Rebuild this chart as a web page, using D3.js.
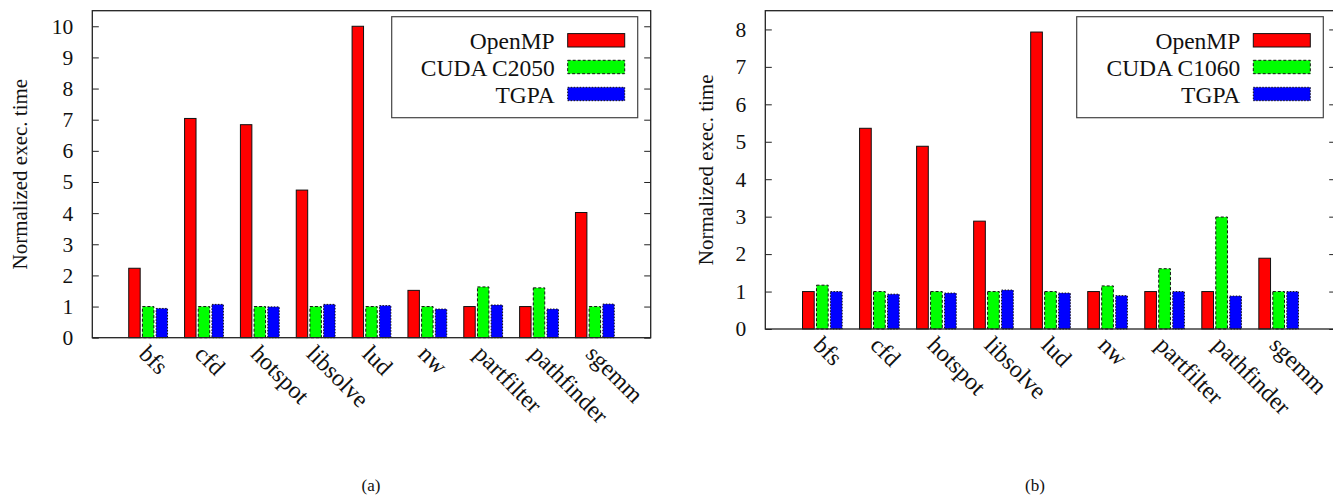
<!DOCTYPE html>
<html>
<head>
<meta charset="utf-8">
<script src="https://cdn.jsdelivr.net/npm/d3@7"></script>
<style>
  html, body { margin: 0; padding: 0; background: #fff; }
  svg { display: block; font-family: "Liberation Serif", "DejaVu Serif", serif; }
</style>
</head>
<body>
<svg id="chart" width="1333" height="495"></svg>
<script>
const categories = ['bfs', 'cfd', 'hotspot', 'libsolve', 'lud', 'nw', 'partfilter', 'pathfinder', 'sgemm'];

// panel (a)
const seriesNamesA = ['OpenMP', 'CUDA C2050', 'TGPA'];
const openmpA = [2.23, 7.04, 6.84, 4.74, 10.0, 1.52, 1.0, 1.0, 4.02];
const cudaA   = [1.0, 1.0, 1.0, 1.0, 1.0, 1.0, 1.63, 1.6, 1.0];
const tgpaA   = [0.94, 1.07, 0.99, 1.07, 1.03, 0.92, 1.05, 0.92, 1.08];
const yTicksA = [0, 1, 2, 3, 4, 5, 6, 7, 8, 9, 10];

// panel (b)
const seriesNamesB = ['OpenMP', 'CUDA C1060', 'TGPA'];
const openmpB = [1.0, 5.36, 4.88, 2.88, 7.93, 1.0, 1.0, 1.0, 1.89];
const cudaB   = [1.17, 1.0, 1.0, 1.0, 1.0, 1.15, 1.61, 2.99, 1.0];
const tgpaB   = [1.0, 0.93, 0.96, 1.04, 0.96, 0.89, 1.0, 0.88, 1.0];
const yTicksB = [0, 1, 2, 3, 4, 5, 6, 7, 8];

const seriesStyle = [
  { fill: '#ff0000', dash: null },
  { fill: '#00ff00', dash: '3,2' },
  { fill: '#0000ff', dash: '1.5,1.5' }
];

const FONT = '"Liberation Serif", "DejaVu Serif", serif';
const svg = d3.select('#chart');

function drawPanel(cfg) {
  const x = d3.scaleLinear().domain([-1, categories.length]).range([cfg.left, cfg.right]);
  const y = d3.scaleLinear().domain([0, cfg.yMax]).range([cfg.bottom, cfg.top]);
  const unit = x(1) - x(0);
  const barW = unit * 0.205;
  const step = unit * 0.245;

  const g = svg.append('g');

  // bars
  cfg.series.forEach((vals, si) => {
    const st = seriesStyle[si];
    g.append('g')
      .selectAll('rect')
      .data(vals)
      .join('rect')
      .attr('x', (d, i) => x(i) + (si - 1) * step - barW / 2)
      .attr('y', d => y(d))
      .attr('width', barW)
      .attr('height', d => y(0) - y(d))
      .attr('fill', st.fill)
      .attr('stroke', '#111')
      .attr('stroke-width', 1)
      .attr('stroke-dasharray', st.dash);
  });

  // frame
  g.append('rect')
    .attr('x', cfg.left).attr('y', cfg.top)
    .attr('width', cfg.right - cfg.left).attr('height', cfg.bottom - cfg.top)
    .attr('fill', 'none').attr('stroke', '#222').attr('stroke-width', 1.3);

  // y axis, inward ticks on both sides
  const yAxis = d3.axisLeft(y).tickValues(cfg.yTicks).tickSize(-6.5).tickPadding(19).tickFormat(d3.format('d'));
  const ya = g.append('g').attr('transform', `translate(${cfg.left},0)`).call(yAxis)
    .attr('font-family', FONT);
  ya.select('.domain').remove();
  ya.selectAll('line').attr('stroke', '#222');
  ya.selectAll('text').attr('font-size', 21.5).attr('fill', '#111');

  const yAxisR = d3.axisRight(y).tickValues(cfg.yTicks).tickSize(-6.5).tickFormat('');
  const yr = g.append('g').attr('transform', `translate(${cfg.right},0)`).call(yAxisR);
  yr.select('.domain').remove();
  yr.selectAll('line').attr('stroke', '#222');

  // category labels, rotated
  g.append('g')
    .selectAll('text')
    .data(categories)
    .join('text')
    .attr('transform', (d, i) => `translate(${x(i) - 5},${cfg.bottom + 12}) rotate(45)`)
    .attr('dy', '0.32em')
    .attr('font-size', 24)
    .attr('fill', '#111')
    .text(d => d);

  // y label
  g.append('text')
    .attr('transform', `translate(${cfg.ylabelX},${(cfg.top + cfg.bottom) / 2}) rotate(-90)`)
    .attr('text-anchor', 'middle')
    .attr('font-size', 21)
    .attr('fill', '#111')
    .text('Normalized exec. time');

  // legend
  const lb = cfg.legendBox;
  g.append('rect')
    .attr('x', lb[0]).attr('y', lb[1])
    .attr('width', lb[2] - lb[0]).attr('height', lb[3] - lb[1])
    .attr('fill', '#fff').attr('stroke', '#444').attr('stroke-width', 1.2);
  const rows = [40.3, 67, 94];
  cfg.names.forEach((name, si) => {
    const st = seriesStyle[si];
    g.append('rect')
      .attr('x', lb[2] - 70).attr('y', rows[si] - 6.7)
      .attr('width', 57).attr('height', 13.4)
      .attr('fill', st.fill).attr('stroke', '#111').attr('stroke-width', 1)
      .attr('stroke-dasharray', st.dash);
    g.append('text')
      .attr('x', lb[2] - 83).attr('y', rows[si] + 8.5)
      .attr('text-anchor', 'end')
      .attr('font-size', 23.5)
      .attr('fill', '#111')
      .text(name);
  });

  // caption
  g.append('text')
    .attr('x', cfg.captionX).attr('y', 491)
    .attr('text-anchor', 'middle')
    .attr('font-size', 17)
    .attr('fill', '#111')
    .text(cfg.caption);
}

drawPanel({
  left: 92.3, right: 650.7, top: 10.7, bottom: 337.7, yMax: 10.5,
  yTicks: yTicksA, series: [openmpA, cudaA, tgpaA], names: seriesNamesA,
  legendBox: [391.7, 16.7, 637.7, 117.7], ylabelX: 27, caption: '(a)', captionX: 371
});

drawPanel({
  left: 765.3, right: 1335.7, top: 10.7, bottom: 329, yMax: 8.5,
  yTicks: yTicksB, series: [openmpB, cudaB, tgpaB], names: seriesNamesB,
  legendBox: [1076.7, 16.7, 1323.3, 117.7], ylabelX: 713, caption: '(b)', captionX: 1035
});
</script>
</body>
</html>
